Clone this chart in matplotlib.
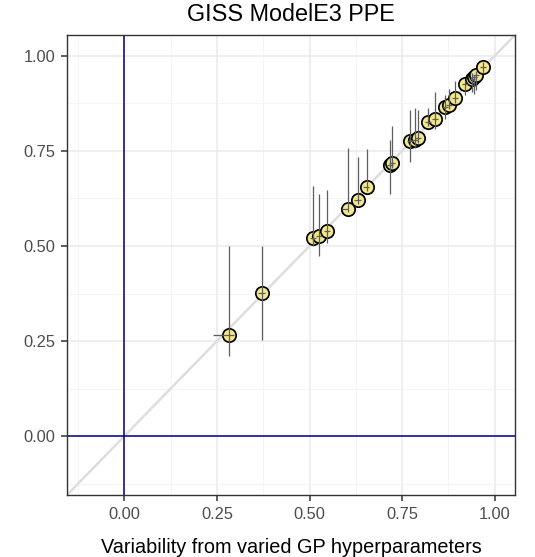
import numpy as np
import matplotlib
matplotlib.use("Agg")
import matplotlib.pyplot as plt
from matplotlib.ticker import MultipleLocator

plt.rcParams['font.family'] = ['Liberation Sans', 'DejaVu Sans']

# values (x = GP hyperparameter variability, y = the other estimate)
x_val = [0.283, 0.371, 0.509, 0.526, 0.548, 0.603, 0.630, 0.654, 0.717, 0.724,
         0.772, 0.785, 0.794, 0.820, 0.839, 0.866, 0.877, 0.893, 0.920, 0.939,
         0.945, 0.950, 0.968]
y_val = [0.266, 0.377, 0.520, 0.526, 0.539, 0.597, 0.621, 0.655, 0.713, 0.718,
         0.776, 0.780, 0.783, 0.825, 0.835, 0.866, 0.872, 0.888, 0.925, 0.939,
         0.944, 0.950, 0.971]
y_lo = [0.210, 0.254, 0.500, 0.474, 0.509, 0.590, 0.610, 0.645, 0.638, 0.705,
        0.720, 0.759, 0.770, 0.815, 0.809, 0.835, 0.860, 0.875, 0.898, 0.905,
        0.900, 0.910, 0.955]
y_hi = [0.500, 0.500, 0.659, 0.638, 0.647, 0.757, 0.733, 0.754, 0.780, 0.815,
        0.858, 0.862, 0.858, 0.862, 0.905, 0.898, 0.912, 0.935, 0.935, 0.955,
        0.950, 0.960, 0.985]
x_lo = [0.239, 0.362, 0.500, 0.518, 0.540, 0.588, 0.620, 0.645, 0.708, 0.716,
        0.764, 0.777, 0.786, 0.812, 0.831, 0.858, 0.869, 0.885, 0.912, 0.931,
        0.937, 0.942, 0.960]
x_hi = [0.295, 0.380, 0.518, 0.534, 0.556, 0.603, 0.638, 0.662, 0.725, 0.732,
        0.780, 0.793, 0.802, 0.828, 0.847, 0.874, 0.885, 0.901, 0.928, 0.947,
        0.953, 0.958, 0.976]

ticks = [0.00, 0.25, 0.50, 0.75, 1.00]
lims = (-0.155, 1.055)

fig = plt.figure(figsize=(5.35, 5.57), dpi=100)
ax = fig.add_axes([67/535, 62/557, 448/535, 460/557])

ax.set_xlim(lims)
ax.set_ylim(lims)
ax.set_xticks(ticks)
ax.set_yticks(ticks)
ax.set_xticklabels([f"{t:.2f}" for t in ticks])
ax.set_yticklabels([f"{t:.2f}" for t in ticks])
ax.xaxis.set_minor_locator(MultipleLocator(0.125))
ax.yaxis.set_minor_locator(MultipleLocator(0.125))
ax.grid(which='major', color='#EBEBEB', lw=1.1, zorder=0)
ax.grid(which='minor', color='#F2F2F2', lw=0.6, zorder=0)
ax.set_axisbelow(True)
ax.tick_params(which='minor', length=0)
ax.tick_params(which='major', length=4, width=1.1, color='#333333',
               labelsize=11.8, labelcolor='#4D4D4D', pad=4.5)
for s in ax.spines.values():
    s.set_color('#333333')
    s.set_linewidth(1.0)

# 1:1 line and zero lines
ax.plot(lims, lims, color='#DEDEDE', lw=1.8, zorder=1)
ax.axvline(0, color='#00008B', lw=1.1, zorder=2)
ax.axhline(0, color='#00008B', lw=1.1, zorder=2)

x = np.array(x_val)
y = np.array(y_val)
ax.plot(x, y, 'o', ms=9.6, mfc='#F3E88C', mec='black', mew=1.25, zorder=3)
ax.vlines(x, y_lo, y_hi, color='#5E5E5E', lw=0.9, zorder=4)
ax.hlines(y, x_lo, x_hi, color='#5E5E5E', lw=0.9, zorder=4)

ax.set_title("GISS ModelE3 PPE", fontsize=16.8, pad=10)
ax.set_xlabel("Variability from varied GP hyperparameters", fontsize=14.3, labelpad=12)

fig.savefig("out.png", dpi=100)
